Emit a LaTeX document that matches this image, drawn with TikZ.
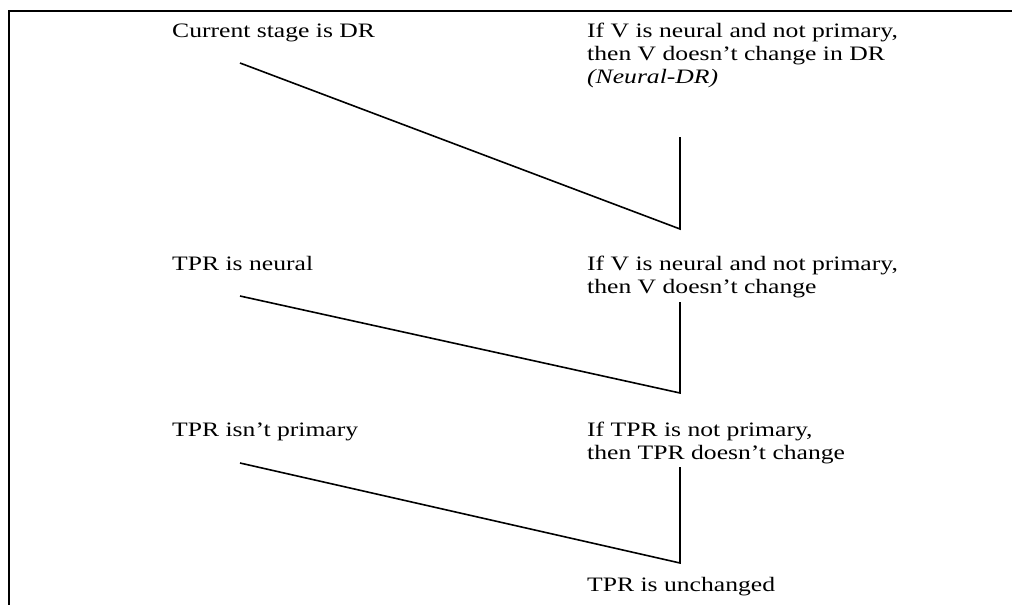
\documentclass[tikz,border=0pt]{standalone}
\usepackage{fontspec}
\setmainfont{Liberation Serif}[FakeStretch=1.25]
\newcommand{\lines}[1]{\begin{tabular}[t]{@{}l@{}}#1\end{tabular}}
\begin{document}
\begin{tikzpicture}[x=1pt,y=-1pt,
  txt/.style={anchor=base west,inner sep=0pt,font=\fontsize{20.5}{22.5}\selectfont},
  link/.style={line width=1.6pt,line join=miter}]
\useasboundingbox (0,0) rectangle (1012,605);
\renewcommand{\arraystretch}{1.03}
% open frame: top and left edges only
\draw[line width=1.6pt] (9,605) -- (9,11) -- (1012,11);

% premises (left column)
\node[txt] (c1) at (172,37) {Current stage is DR};
\node[txt] (c2) at (172,270) {TPR is neural};
\node[txt] (c3) at (172,436) {TPR isn't primary};

% rules (right column)
\node[txt] (r1) at (587,37) {\lines{If V is neural and not primary,\\then V doesn't change in DR\\\textit{(Neural-DR)}}};
\node[txt] (r2) at (587,270) {\lines{If V is neural and not primary,\\then V doesn't change}};
\node[txt] (r3) at (587,436) {\lines{If TPR is not primary,\\then TPR doesn't change}};
\node[txt] (r4) at (587,591) {TPR is unchanged};

% joint points
\coordinate (s1) at (240,63);
\coordinate (t1) at (680,137);
\coordinate (j1) at (680,229);
\coordinate (s2) at (240,296);
\coordinate (t2) at (680,302);
\coordinate (j2) at (680,393);
\coordinate (s3) at (240,463);
\coordinate (t3) at (680,467);
\coordinate (j3) at (680,563);

\draw[link] (s1) -- (j1) -- (t1);
\draw[link] (s2) -- (j2) -- (t2);
\draw[link] (s3) -- (j3) -- (t3);
\end{tikzpicture}
\end{document}
